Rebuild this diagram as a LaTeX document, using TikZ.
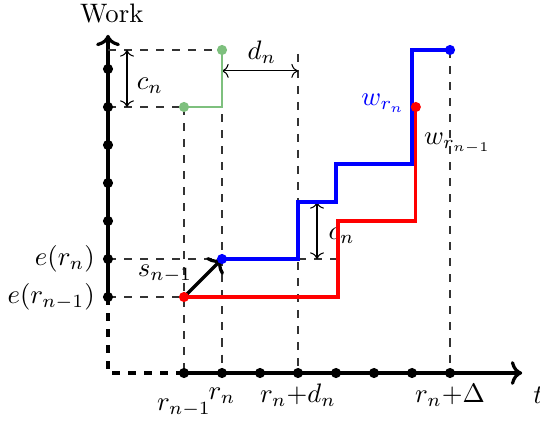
\documentclass[tikz,border=0pt]{standalone}
\usetikzlibrary{arrows.meta}
\definecolor{lgreen}{RGB}{126,192,126}
\begin{document}
\begin{tikzpicture}[x=0.5cm,y=0.5cm,
  dot/.style={circle,fill=black,inner sep=0pt,minimum size=3.8pt},
  guide/.style={dashed,semithick,black!80},
  axisline/.style={very thick},
  meas/.style={<->,thin},
  bluepath/.style={blue,line width=1.2pt},
  redpath/.style={red,line width=1.2pt},
  greenpath/.style={lgreen,line width=1.1pt}]
\useasboundingbox (-2.842,-1.263) rectangle (11.368,9.816);
% coordinates
\coordinate (O) at (0,0);
\coordinate (Y2) at (0,2);
\coordinate (X2) at (2,0);
\coordinate (Ytop) at (0,8.9);
\coordinate (Xend) at (10.9,0);
% axes
\draw[axisline,dashed] (Y2) -- (O) -- (X2);
\draw[axisline,->] (Y2) -- (Ytop);
\draw[axisline,->] (X2) -- (Xend);
\node (work) at (0.1,9.45) {Work};
\node[anchor=west,inner sep=0pt] (t) at (11.18,-0.58) {$t$};
% guides
\coordinate (g85) at (0,8.5);
\coordinate (g7) at (0,7);
\coordinate (g3) at (0,3);
\coordinate (g2) at (0,2);
\coordinate (G1) at (2,7);
\coordinate (G2) at (3,8.5);
\coordinate (B1) at (3,3);
\coordinate (B2) at (9,8.5);
\coordinate (R1) at (2,2);
\coordinate (R2) at (8.1,7);
\coordinate (D5top) at (5,8.4);
\coordinate (D5bot) at (5,0);
\coordinate (x2) at (2,0);
\coordinate (x3) at (3,0);
\coordinate (x9) at (9,0);
\coordinate (b53) at (5,3);
\coordinate (r63) at (6.05,3);
\draw[guide] (g85) -- (G2);
\draw[guide] (g7) -- (G1);
\draw[guide] (g3) -- (B1);
\draw[guide] (g2) -- (R1);
\draw[guide] (b53) -- (r63);
\draw[guide] (G1) -- (x2);
\draw[guide] (G2) -- (x3);
\draw[guide] (D5top) -- (D5bot);
\draw[guide] (B2) -- (x9);
% measures
\coordinate (c1a) at (0.5,8.5);
\coordinate (c1b) at (0.5,7);
\draw[meas] (c1a) -- (c1b);
\node (cn1) at (1.1,7.55) {$c_n$};
\coordinate (d1a) at (3,7.95);
\coordinate (d1b) at (5,7.95);
\draw[meas] (d1a) -- (d1b);
\node (dn) at (4.05,8.45) {$d_n$};
\coordinate (c2a) at (5.5,4.5);
\coordinate (c2b) at (5.5,3);
\draw[meas] (c2a) -- (c2b);
\node (cn2) at (6.15,3.6) {$c_n$};
% paths
\draw[greenpath] (G1) -- (3,7) -- (G2);
\draw[redpath] (R1) -- (6.05,2) -- (6.05,4) -- (8.1,4) -- (R2);
\draw[bluepath] (B1) -- (5,3) -- (5,4.5) -- (6,4.5) -- (6,5.5) -- (8,5.5) -- (8,8.5) -- (B2);
\draw[very thick,->] (R1) -- (B1);
\node (s) at (1.5,2.6) {$s_{n-1}$};
% dots
\foreach \y in {2,...,8} \node[dot] (yd\y) at (0,\y) {};
\foreach \x in {2,...,9} \node[dot] (xd\x) at (\x,0) {};
\node[dot,fill=lgreen] (gd1) at (G1) {};
\node[dot,fill=lgreen] (gd2) at (G2) {};
\node[dot,fill=blue] (bd1) at (B1) {};
\node[dot,fill=blue] (bd2) at (B2) {};
\node[dot,fill=red] (rd1) at (R1) {};
\node[dot,fill=red] (rd2) at (R2) {};
% labels
\node[anchor=east] (ern) at (-0.1,3) {$e(r_n)$};
\node[anchor=east] (ern1) at (-0.1,2) {$e(r_{n-1})$};
\node[blue] (wrn) at (7.24,7.1) {$w_{r_n}$};
\node (wrn1) at (9.2,6.05) {$w_{r_{n-1}}$};
\node (lr1) at (2,-0.92) {$r_{n-1}$};
\node (lr) at (3,-0.6) {$r_n$};
\node (lrd) at (5,-0.58) {$r_n{+}d_n$};
\node (lrD) at (9,-0.58) {$r_n{+}\Delta$};
\end{tikzpicture}
\end{document}
